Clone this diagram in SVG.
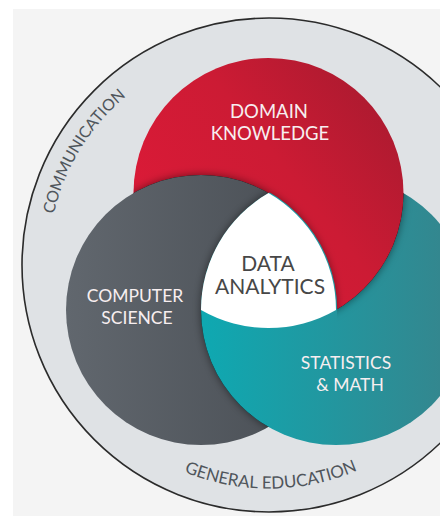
<svg xmlns="http://www.w3.org/2000/svg" width="440" height="516" viewBox="0 0 440 516">
  <defs>
    <linearGradient id="gRed" gradientUnits="userSpaceOnUse" x1="150" y1="270" x2="390" y2="80">
      <stop offset="0" stop-color="#de1a38"/>
      <stop offset="0.55" stop-color="#cc1b34"/>
      <stop offset="1" stop-color="#a81a2f"/>
    </linearGradient>
    <linearGradient id="gGray" gradientUnits="userSpaceOnUse" x1="66" y1="310" x2="336" y2="310">
      <stop offset="0" stop-color="#61676e"/>
      <stop offset="1" stop-color="#474c52"/>
    </linearGradient>
    <linearGradient id="gTeal" gradientUnits="userSpaceOnUse" x1="205" y1="310" x2="440" y2="310">
      <stop offset="0" stop-color="#0fa8b1"/>
      <stop offset="1" stop-color="#33878f"/>
    </linearGradient>
    <clipPath id="cRed"><circle cx="268.5" cy="193" r="135"/></clipPath>
    <clipPath id="cGray"><circle cx="201" cy="310" r="135"/></clipPath>
    <clipPath id="cGrayWide"><circle cx="201" cy="310" r="136.2"/></clipPath>
    <clipPath id="cTeal"><circle cx="336" cy="310" r="135"/></clipPath>
    <filter id="sh" x="-20%" y="-20%" width="140%" height="140%">
      <feDropShadow dx="0" dy="0" stdDeviation="4" flood-color="#000" flood-opacity="0.5"/>
    </filter>
    <path id="arcTop" d="M51.7,299.4 A216,216 0 0 1 201,55.8" fill="none"/>
    <path id="arcBot" d="M110.6,423.4 A225,225 0 0 0 430.1,420.6" fill="none"/>
    <style>
      .lbl { font-family: Lato, "Open Sans", "Liberation Sans", sans-serif; text-anchor: middle; }
      .wt { fill: #f7eef0; }
      .dk { fill: #474747; }
      .ring { font-family: Lato, "Open Sans", "Liberation Sans", sans-serif; fill: #4f555b; }
    </style>
  </defs>

  <rect x="0" y="0" width="440" height="516" fill="#ffffff"/>
  <rect x="13" y="9" width="427" height="507" fill="#f4f4f4"/>

  <g id="ring">
    <circle cx="269" cy="265" r="247" fill="#dfe2e5" stroke="#2b2b2b" stroke-width="1.6"/>
    <text class="ring" font-size="16"><textPath href="#arcTop" startOffset="50%" text-anchor="middle">COMMUNICATION</textPath></text>
    <text class="ring" font-size="17"><textPath href="#arcBot" startOffset="50%" text-anchor="middle">GENERAL EDUCATION</textPath></text>
  </g>

  <g id="statistics">
    <circle cx="336" cy="310" r="135" fill="url(#gTeal)"/>
  </g>

  <g id="domain">
    <g clip-path="url(#cTeal)"><circle cx="268.5" cy="193" r="135" fill="#000" filter="url(#sh)"/></g>
    <circle cx="268.5" cy="193" r="135" fill="url(#gRed)"/>
  </g>

  <g id="computer">
    <g clip-path="url(#cRed)"><circle cx="201" cy="310" r="135" fill="#000" filter="url(#sh)"/></g>
    <circle cx="201" cy="310" r="135" fill="url(#gGray)"/>
  </g>

  <g id="statistics-over">
    <g clip-path="url(#cGray)">
      <circle cx="336" cy="310" r="135" fill="#000" filter="url(#sh)"/>
    </g>
    <g clip-path="url(#cGrayWide)">
      <circle cx="336" cy="310" r="135" fill="url(#gTeal)"/>
    </g>
  </g>

  <g id="analytics">
    <path d="M268.5,193 A135,135 0 0 0 201,310 A135,135 0 0 0 336,310 A135,135 0 0 0 268.5,193 Z" fill="#ffffff"/>
  </g>

  <g id="labels">
    <text class="lbl wt" font-size="18.5"><tspan x="269" y="118">DOMAIN</tspan><tspan x="270" y="140">KNOWLEDGE</tspan></text>
    <text class="lbl wt" font-size="17.5"><tspan x="135" y="302">COMPUTER</tspan><tspan x="137" y="324">SCIENCE</tspan></text>
    <text class="lbl dk" font-size="21"><tspan x="268" y="271">DATA</tspan><tspan x="270" y="294">ANALYTICS</tspan></text>
    <text class="lbl wt" font-size="17.5"><tspan x="346" y="369">STATISTICS</tspan><tspan x="350" y="391">&amp; MATH</tspan></text>
  </g>
</svg>
